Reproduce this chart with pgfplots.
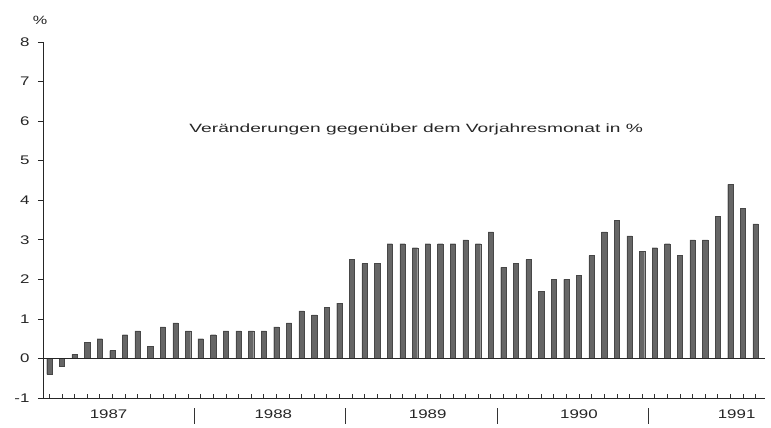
\documentclass[border=0pt]{standalone}
\usepackage{fontspec}
\setmainfont{Liberation Sans}[FakeStretch=1.35]
\newfontfamily\titlefont{Liberation Sans}[FakeStretch=1.6]
\usepackage{pgfplots}
\pgfplotsset{compat=1.18}
\begin{document}
\begin{tikzpicture}
\useasboundingbox (-43bp,-30bp) rectangle (728bp,398bp);
\begin{axis}[
  at={(0,0)}, anchor=south west,
  scale only axis, width=722bp, height=356bp,
  xmin=0.5, xmax=57.75, ymin=-1, ymax=8,
  axis lines*=left,
  axis line style={line width=0.8bp, black!85},
  ytick={-1,0,...,8},
  ytick align=outside,
  xtick={1,2,...,57},
  xticklabels={,,,,,1987\kern7.6bp,,,,,,,,,,,,,1988\kern6bp,,,,,,,,,,,,1989,,,,,,,,,,,,1990,,,,,,,,,,,,\kern12.6bp 1991,,},
  major tick length=5bp,
  major x tick style={draw=none},
  major y tick style={line width=0.7bp, black!85},
  /pgf/number format/assume math mode=true,
  tick label style={font=\fontsize{12.5bp}{14bp}\selectfont, text=black!85},
  yticklabel style={xshift=-5bp},
  xticklabel style={yshift=-8bp},
  clip=false,
]
\addplot[ybar, bar width=0.42, bar shift=0pt, fill=black!60, draw=black!72, line width=0.3bp]
coordinates {
(1,-0.4) (2,-0.2) (3,0.1) (4,0.4) (5,0.5) (6,0.2) (7,0.6) (8,0.7) (9,0.3) (10,0.8) (11,0.9) (12,0.7)
(13,0.5) (14,0.6) (15,0.7) (16,0.7) (17,0.7) (18,0.7) (19,0.8) (20,0.9) (21,1.2) (22,1.1) (23,1.3) (24,1.4)
(25,2.5) (26,2.4) (27,2.4) (28,2.9) (29,2.9) (30,2.8) (31,2.9) (32,2.9) (33,2.9) (34,3.0) (35,2.9) (36,3.2)
(37,2.3) (38,2.4) (39,2.5) (40,1.7) (41,2.0) (42,2.0) (43,2.1) (44,2.6) (45,3.2) (46,3.5) (47,3.1) (48,2.7)
(49,2.8) (50,2.9) (51,2.6) (52,3.0) (53,3.0) (54,3.6) (55,4.4) (56,3.8) (57,3.4)
};
\draw[line width=0.7bp, black!85] (axis cs:0.5,0) -- (axis cs:57.75,0);
\pgfplotsinvokeforeach{1,...,57}{
  \draw[line width=0.6bp, black!80] (axis cs:#1,-1) -- ([yshift=4bp]axis cs:#1,-1);
}
\draw[line width=0.7bp, black!80] ([yshift=-10bp]axis cs:12.5,-1) -- ([yshift=-26bp]axis cs:12.5,-1);
\draw[line width=0.7bp, black!80] ([yshift=-10bp]axis cs:24.5,-1) -- ([yshift=-26bp]axis cs:24.5,-1);
\draw[line width=0.7bp, black!80] ([yshift=-10bp]axis cs:36.5,-1) -- ([yshift=-26bp]axis cs:36.5,-1);
\draw[line width=0.7bp, black!80] ([yshift=-10bp]axis cs:48.5,-1) -- ([yshift=-26bp]axis cs:48.5,-1);
\node[font=\fontsize{12bp}{14bp}\selectfont, text=black!85] at (rel axis cs:0,1) [xshift=-3bp, yshift=22bp] {\%};
\node[font=\titlefont\fontsize{12bp}{14bp}\selectfont, text=black!85] at (axis cs:30.1,5.78) {Veränderungen gegenüber dem Vorjahresmonat in \%};
\end{axis}
\end{tikzpicture}
\end{document}
